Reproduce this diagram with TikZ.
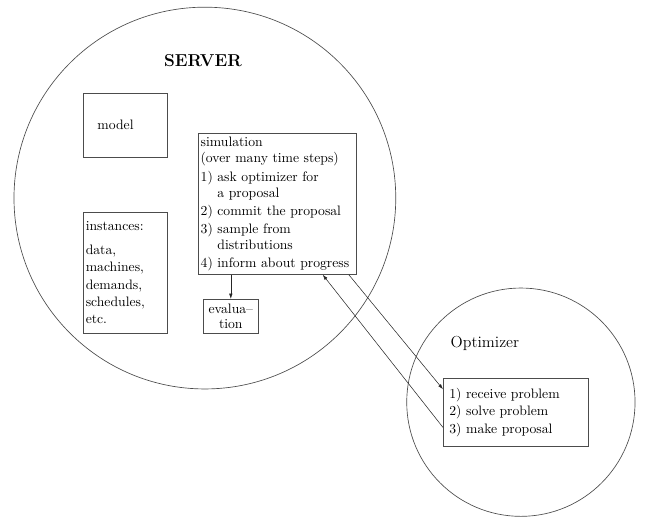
\documentclass[tikz,border=0pt]{standalone}
\usepackage{tikz}
\usetikzlibrary{arrows.meta}

\begin{document}
\begin{tikzpicture}[
    world/.style={draw=black!70, line width=0.5pt},
    box/.style={draw=black!70, line width=0.5pt, rectangle, anchor=north west, inner ysep=0pt, align=left, font=\fontsize{10.3}{12}\selectfont},
    msg/.style={-{Latex[length=4pt,width=2.6pt]}, line width=0.4pt, black!85}
]
    \useasboundingbox (0,0) rectangle (17.09,13.68);
    % Server
    \draw [world] (5.42,8.44) circle (5.05);
    \node (srvtitle) at (5.37,12.09) {\fontsize{13}{15}\selectfont\bfseries SERVER};
    \node [box, minimum height=1.69cm, text width=1.48cm, inner xsep=0.37cm] (model) at (2.2,11.22) {model};
    \node [box, minimum height=3.2cm, text width=2.1cm, inner xsep=0.06cm, font=\fontsize{10.3}{13}\selectfont] (inst) at (2.2,8.07)
        {instances:\\[5pt] data,\\ machines,\\ demands,\\ schedules,\\ etc.};
    \node [box, minimum height=3.73cm, text width=4.06cm, inner xsep=0.06cm] (sim) at (5.24,10.16)
        {simulation\\ (over many time steps)\\[2pt]
         1) ask optimizer for\\ \phantom{1)} a proposal\\[1.5pt]
         2) commit the proposal\\[1.5pt]
         3) sample from\\ \phantom{3)} distributions\\[1.5pt]
         4) inform about progress};
    \node [box, align=center, minimum width=1.455cm, minimum height=0.9cm, inner sep=1pt, font=\fontsize{10.3}{11}\selectfont] (eval) at (5.37,5.77) {evalua--\\tion};
    % Optimizer
    \draw [world] (13.78,3.04) circle (3.02);
    \node (opttitle) at (12.83,4.6) {\large Optimizer};
    \node [box, minimum height=1.8cm, text width=3.52cm, inner xsep=0.16cm, font=\fontsize{10.3}{13.2}\selectfont] (task) at (11.72,3.68)
        {1) receive problem\\ 2) solve problem\\ 3) make proposal};
    % Messages
    \draw [msg] (sim.south -| eval.north) -- (eval.north);
    \draw [msg] ([xshift=-0.21cm]sim.south east) -- ([yshift=0.61cm]task.west);
    \draw [msg] ([yshift=-0.4cm]task.west) -- ([xshift=-0.9cm]sim.south east);
\end{tikzpicture}
\end{document}
